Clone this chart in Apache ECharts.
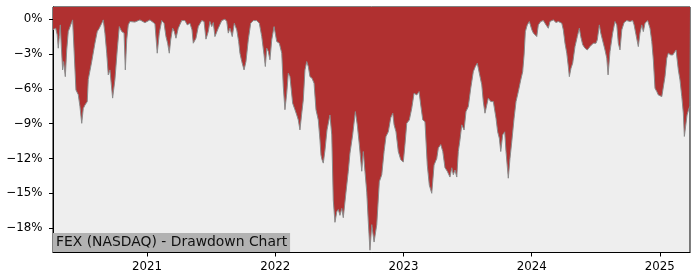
<!DOCTYPE html>
<html>
<head>
<meta charset="utf-8">
<script src="https://cdn.jsdelivr.net/npm/echarts@6/dist/echarts.min.js"></script>
<style>html,body{margin:0;padding:0;background:#fff}#c{width:700px;height:280px}</style>
</head>
<body>
<div id="c"></div>
<script>
// Dates as decimal years, drawdown in percent
const dates = [
2020.267,2020.275,2020.288,2020.300,2020.308,2020.316,2020.324,2020.332,2020.342,2020.350,2020.363,2020.374,2020.386,2020.405,2020.420,2020.431,
2020.446,2020.464,2020.477,2020.491,2020.503,2020.516,2020.534,2020.542,2020.569,2020.594,2020.612,2020.628,2020.647,2020.659,2020.672,2020.686,
2020.698,2020.711,2020.732,2020.750,2020.768,2020.784,2020.803,2020.821,2020.831,2020.842,2020.854,2020.867,2020.906,2020.945,2020.984,2021.023,
2021.062,2021.080,2021.096,2021.115,2021.133,2021.148,2021.161,2021.174,2021.185,2021.200,2021.213,2021.226,2021.244,2021.271,2021.296,2021.314,
2021.335,2021.351,2021.361,2021.382,2021.400,2021.427,2021.445,2021.460,2021.478,2021.491,2021.505,2021.517,2021.530,2021.544,2021.556,2021.583,
2021.608,2021.622,2021.634,2021.647,2021.665,2021.681,2021.700,2021.715,2021.725,2021.739,2021.757,2021.772,2021.790,2021.809,2021.829,2021.856,
2021.876,2021.895,2021.913,2021.923,2021.934,2021.946,2021.959,2021.973,2021.991,2022.001,2022.012,2022.032,2022.051,2022.063,2022.076,2022.090,
2022.102,2022.115,2022.136,2022.154,2022.168,2022.180,2022.193,2022.207,2022.219,2022.232,2022.246,2022.258,2022.271,2022.287,2022.303,2022.318,
2022.336,2022.349,2022.357,2022.365,2022.375,2022.388,2022.404,2022.427,2022.441,2022.453,2022.466,2022.480,2022.492,2022.505,2022.519,2022.531,
2022.539,2022.552,2022.570,2022.583,2022.604,2022.625,2022.640,2022.656,2022.675,2022.687,2022.700,2022.714,2022.726,2022.739,2022.753,2022.771,
2022.792,2022.812,2022.831,2022.849,2022.864,2022.882,2022.901,2022.917,2022.927,2022.942,2022.960,2022.979,2022.999,2023.012,2023.026,2023.046,
2023.065,2023.083,2023.104,2023.122,2023.135,2023.151,2023.168,2023.186,2023.202,2023.221,2023.239,2023.260,2023.272,2023.291,2023.307,2023.324,
2023.342,2023.363,2023.377,2023.389,2023.402,2023.416,2023.428,2023.441,2023.455,2023.473,2023.488,2023.506,2023.525,2023.545,2023.561,2023.576,
2023.592,2023.611,2023.623,2023.636,2023.650,2023.662,2023.681,2023.701,2023.722,2023.735,2023.748,2023.759,2023.774,2023.790,2023.800,2023.818,
2023.831,2023.845,2023.863,2023.878,2023.896,2023.915,2023.930,2023.941,2023.951,2023.966,2023.982,2024.001,2024.013,2024.026,2024.040,2024.052,
2024.071,2024.091,2024.112,2024.130,2024.143,2024.169,2024.190,2024.208,2024.235,2024.247,2024.260,2024.274,2024.286,2024.294,2024.307,2024.320,
2024.338,2024.356,2024.372,2024.383,2024.398,2024.416,2024.434,2024.455,2024.481,2024.502,2024.512,2024.528,2024.539,2024.554,2024.572,2024.586,
2024.596,2024.611,2024.632,2024.650,2024.664,2024.676,2024.689,2024.703,2024.721,2024.742,2024.767,2024.788,2024.799,2024.814,2024.832,2024.845,
2024.859,2024.871,2024.884,2024.905,2024.923,2024.937,2024.949,2024.962,2024.976,2024.988,2025.001,2025.015,2025.027,2025.040,2025.054,2025.066,
2025.085,2025.101,2025.111,2025.126,2025.144,2025.157,2025.171,2025.183,2025.191,2025.212,2025.228,2025.235
];
const drawdown = [
-0.90,-0.92,-0.78,-1.35,-2.50,-1.50,-0.49,-2.36,-4.37,-3.65,-4.95,-2.65,-1.07,-0.49,-0.06,0.00,
-6.10,-6.50,-7.50,-8.97,-7.70,-7.40,-7.10,-5.20,-3.65,-2.07,-1.07,-0.78,-0.35,-0.06,-1.20,-2.93,
-4.80,-4.37,-6.80,-5.20,-2.65,-0.64,-1.07,-1.20,-4.37,-1.78,-0.49,-0.20,-0.25,-0.06,-0.30,-0.06,
-0.40,-2.93,-1.20,-0.12,-0.35,-1.50,-2.07,-2.93,-1.78,-0.78,-1.07,-1.64,-0.78,-0.12,-0.12,-0.49,
-0.35,-0.92,-2.07,-1.64,-0.64,-0.12,-0.20,-1.72,-1.07,-0.20,-0.64,-0.29,-1.50,-1.64,-0.78,-0.12,
0.00,-0.20,-1.20,-0.78,-1.50,-0.35,-0.92,-1.93,-2.93,-3.65,-4.37,-3.65,-1.78,-0.35,-0.12,-0.12,
-0.35,-1.50,-3.08,-4.08,-2.50,-2.79,-3.50,-1.78,-0.64,-0.78,-1.93,-2.07,-2.93,-5.80,-7.80,-6.38,
-4.66,-4.95,-7.24,-7.80,-8.25,-8.68,-9.54,-8.10,-6.96,-4.37,-3.65,-4.08,-4.95,-5.09,-5.52,-7.80,
-8.68,-10.40,-11.70,-12.10,-12.40,-11.30,-9.54,-8.25,-9.97,-15.60,-17.50,-16.60,-16.40,-16.90,-16.30,-17.10,
-17.20,-14.90,-13.10,-11.55,-9.97,-7.96,-9.10,-10.80,-13.10,-11.40,-13.10,-14.90,-17.45,-19.90,-17.70,-19.20,
-17.70,-14.00,-13.40,-11.40,-10.10,-9.70,-8.50,-8.10,-9.10,-9.70,-11.40,-12.10,-12.30,-10.80,-8.97,-8.68,
-7.67,-6.38,-6.53,-6.24,-7.39,-8.68,-8.83,-12.56,-14.30,-15.00,-12.56,-12.00,-11.10,-10.80,-11.40,-12.80,
-13.10,-13.60,-12.80,-13.40,-13.00,-13.60,-11.40,-10.40,-9.10,-9.54,-7.96,-7.53,-5.95,-4.52,-4.08,-3.79,
-4.66,-5.66,-7.10,-8.10,-7.96,-6.80,-7.10,-7.10,-8.53,-9.70,-10.26,-11.40,-9.97,-9.70,-11.40,-13.70,
-12.00,-10.55,-8.53,-7.10,-6.24,-5.23,-4.52,-3.08,-1.07,-0.49,-0.20,-0.90,-1.20,-1.07,-1.50,-0.49,
-0.20,-0.12,-0.49,-0.78,-0.20,-0.06,-0.29,-0.20,-0.35,-0.92,-2.07,-2.93,-4.08,-4.95,-4.22,-3.79,
-2.36,-1.50,-0.78,-1.50,-2.20,-2.50,-2.65,-2.36,-2.07,-2.07,-1.78,-0.49,-1.20,-1.35,-2.65,-3.36,
-4.80,-2.79,-1.20,-0.20,-0.49,-2.07,-2.65,-0.92,-0.29,-0.12,-0.20,-0.12,-0.49,-1.35,-2.36,-1.20,
-0.49,-1.07,-0.35,-0.12,-0.78,-1.93,-3.50,-5.95,-6.24,-6.53,-6.38,-6.67,-6.80,-4.95,-3.36,-2.93,
-3.08,-3.08,-3.22,-2.65,-4.37,-5.23,-6.67,-8.10,-10.10,-8.25,-7.65,-7.50
];
const yearTicks = [2021, 2022, 2023, 2024, 2025];
const pctTicks = [0, -3, -6, -9, -12, -15, -18];
const titleText = 'FEX (NASDAQ) - Drawdown Chart';

const seriesData = dates.map((d, i) => [d, drawdown[i]]);
const chart = echarts.init(document.getElementById('c'), null, {renderer: 'canvas'});
const font = 'DejaVu Sans';
chart.setOption({
  animation: false,
  title: {
    text: titleText,
    left: 53, top: 233,
    padding: [2, 3, 2, 3],
    backgroundColor: '#b2b2b2',
    textStyle: {fontFamily: font, fontSize: 13.9, fontWeight: 'normal', color: '#111', lineHeight: 15}
  },
  grid: {
    left: 53, right: 10, top: 7, bottom: 27.5,
    show: true, backgroundColor: '#eeeeee', borderColor: '#000', borderWidth: 1
  },
  xAxis: {
    type: 'value',
    min: dates[0], max: dates[dates.length - 1],
    axisLine: {show: true, onZero: false, lineStyle: {color: '#000', width: 1}},
    axisTick: {show: true, customValues: yearTicks, length: 4, lineStyle: {color: '#000'}},
    axisLabel: {customValues: yearTicks, fontFamily: font, fontSize: 11.8, color: '#000', margin: 8,
      formatter: v => String(Math.round(v))},
    splitLine: {show: false}
  },
  yAxis: {
    type: 'value',
    min: -20.1, max: 1.05,
    axisLine: {show: true, onZero: false, lineStyle: {color: '#000', width: 1}},
    axisTick: {show: true, customValues: pctTicks, length: 4, lineStyle: {color: '#000'}},
    axisLabel: {customValues: pctTicks, fontFamily: font, fontSize: 11.8, color: '#000', margin: 10.5,
      formatter: v => v === 0 ? '0%' : '\u2212' + Math.abs(v) + '%'},
    splitLine: {show: false}
  },
  series: [{
    type: 'line',
    data: seriesData,
    showSymbol: false,
    symbol: 'none',
    lineStyle: {color: '#8a8a8a', width: 1},
    areaStyle: {color: '#b03030', opacity: 1, origin: 'end'},
    z: 2
  }]
});
</script>
</body>
</html>
